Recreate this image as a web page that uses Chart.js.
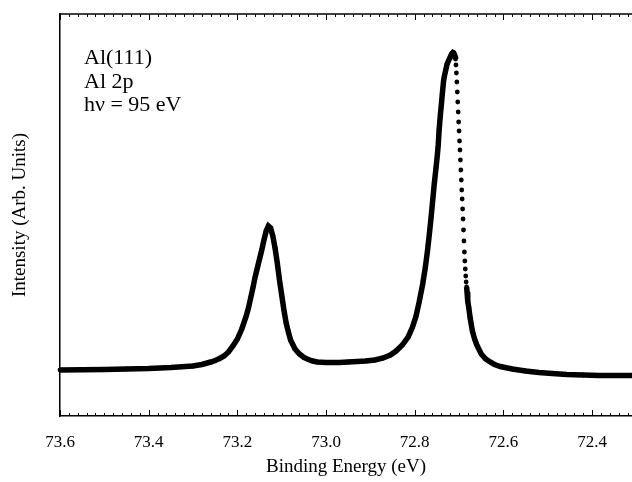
<!DOCTYPE html>
<html lang="en">
<head>
    <meta charset="UTF-8">
    <title>Al 2p spectrum</title>
    <script src="https://cdn.jsdelivr.net/npm/chart.js"></script>
    <style>
        html, body { margin: 0; padding: 0; background: #fff; }
        #spectrum { display: block; }
    </style>
</head>
<body>
    <canvas id="spectrum" width="632" height="482"></canvas>
    <script>
        // binding energy (eV)
        const energy = [
            73.60, 73.55, 73.50, 73.45, 73.40, 73.35, 73.30, 73.28, 73.26, 73.25,
            73.24, 73.23, 73.22, 73.21, 73.20, 73.19, 73.18, 73.175, 73.17, 73.165,
            73.16, 73.155, 73.15, 73.145, 73.14, 73.135, 73.13, 73.125, 73.12, 73.115,
            73.11, 73.105, 73.10, 73.095, 73.09, 73.085, 73.08, 73.07, 73.06, 73.05,
            73.04, 73.03, 73.02, 73.00, 72.97, 72.95, 72.93, 72.91, 72.89, 72.871,
            72.855, 72.842, 72.828, 72.815, 72.805, 72.797, 72.790, 72.782, 72.776, 72.771,
            72.767, 72.763, 72.760, 72.756, 72.752, 72.749, 72.747, 72.745, 72.742, 72.740,
            72.738, 72.735, 72.733, 72.730, 72.727, 72.723, 72.720, 72.718, 72.716, 72.714,
            72.712, 72.710, 72.709, 72.708, 72.707, 72.706, 72.705, 72.704, 72.703, 72.702,
            72.701, 72.700, 72.699, 72.698, 72.697, 72.696, 72.695, 72.694, 72.693, 72.692,
            72.691, 72.690, 72.689, 72.688, 72.687, 72.686, 72.685, 72.684, 72.683, 72.682,
            72.681, 72.680, 72.678, 72.675, 72.670, 72.665, 72.660, 72.650, 72.640, 72.630,
            72.620, 72.607, 72.58, 72.55, 72.52, 72.49, 72.457, 72.42, 72.383, 72.35,
            72.31
        ];
        // intensity (arb. units)
        const intensity = [
            46, 46.2, 46.5, 47, 47.5, 48.5, 50, 51.5, 54, 55.5,
            57.5, 60, 64, 70, 77, 87, 100, 108, 118, 128,
            139, 148, 157, 166, 176, 185, 190, 188, 180, 168,
            153, 136, 121, 106, 93, 84, 76, 67, 62, 58.5,
            56.5, 55, 54, 53.5, 53.5, 54, 54.5, 55, 56, 58,
            61, 65, 71, 79, 89, 100, 114, 132, 149, 166,
            182, 199, 213, 232, 248, 261, 271, 286, 302, 311,
            321, 335, 340, 346, 352, 356, 359, 361, 362.5, 363.5,
            363, 361, 359.5, 357, 351, 343, 334, 324, 314, 304,
            294, 285, 275, 266, 256, 246, 236, 226, 217, 207,
            197, 186, 175, 164, 155, 147, 140, 134, 129, 124,
            119, 115, 108, 98, 85, 77, 71, 62, 57, 54,
            51.5, 49.5, 47, 45, 43.5, 42.5, 41.5, 41, 40.5, 40.5,
            40.5
        ];
        const xTicks = [73.6, 73.4, 73.2, 73.0, 72.8, 72.6, 72.4];
        const xTickLabels = ['73.6', '73.4', '73.2', '73.0', '72.8', '72.6', '72.4'];
        const notes = ['Al(111)', 'Al 2p', 'h\u03BD = 95 eV'];

        const points = energy.map((e, i) => ({ x: e, y: intensity[i] }));

        // the steep fall of the big peak shows separate dots, no line
        const dotted = (a, b) => a >= 72.6825 && a <= 72.7085 && b >= 72.6825 && b <= 72.7085;

        const frame = {
            id: 'frame',
            afterDraw(chart) {
                const { ctx, chartArea: a, scales: { x } } = chart;
                ctx.save();
                ctx.strokeStyle = '#000';
                ctx.lineWidth = 1.5;
                ctx.beginPath();
                ctx.moveTo(a.left, a.top);
                ctx.lineTo(a.right, a.top);
                ctx.stroke();

                ctx.lineWidth = 1;
                for (let i = 0; i <= 70; i++) {
                    const px = Math.round(x.getPixelForValue(73.6 - i * 0.02)) + 0.5;
                    if (px > a.right) break;
                    const len = i % 10 === 0 ? 6 : 3;
                    ctx.beginPath();
                    ctx.moveTo(px, a.bottom);
                    ctx.lineTo(px, a.bottom - len);
                    ctx.moveTo(px, a.top);
                    ctx.lineTo(px, a.top + len);
                    ctx.stroke();
                }

                ctx.fillStyle = '#000';
                ctx.font = "22px 'Liberation Serif', 'Times New Roman', serif";
                ctx.textBaseline = 'alphabetic';
                notes.forEach((t, i) => ctx.fillText(t, 84, 64 + i * 23.5));
                ctx.restore();
            }
        };

        Chart.defaults.font.family = "'Liberation Serif', 'Times New Roman', serif";
        Chart.defaults.color = '#000';

        new Chart(document.getElementById('spectrum'), {
            type: 'scatter',
            data: {
                datasets: [{
                    data: points,
                    showLine: true,
                    borderColor: '#000',
                    borderWidth: 5.5,
                    pointRadius: 2.4,
                    pointBorderWidth: 0,
                    pointBackgroundColor: '#000',
                    clip: false,
                    segment: {
                        borderColor: ctx => dotted(ctx.p0.parsed.x, ctx.p1.parsed.x) ? 'rgba(0,0,0,0)' : '#000'
                    }
                }]
            },
            options: {
                responsive: false,
                animation: false,
                layout: { autoPadding: false, padding: { top: 14, right: 0, left: 0, bottom: 0 } },
                plugins: { legend: { display: false }, tooltip: { enabled: false } },
                scales: {
                    x: {
                        type: 'linear',
                        reverse: true,
                        min: 72.31,
                        max: 73.6,
                        afterBuildTicks: s => { s.ticks = xTicks.map(v => ({ value: v })); },
                        afterFit: s => { s.height = 66; s.paddingRight = 0; s.paddingLeft = 0; },
                        grid: { display: false, drawTicks: false },
                        border: { display: true, color: '#000', width: 1.5 },
                        ticks: {
                            padding: 16,
                            font: { size: 17 },
                            callback: (v, i) => xTickLabels[i]
                        },
                        title: {
                            display: true,
                            text: 'Binding Energy (eV)',
                            font: { size: 19 },
                            padding: { top: 0, bottom: 4 }
                        }
                    },
                    y: {
                        min: 0,
                        max: 402,
                        afterFit: s => { s.width = 60; },
                        grid: { display: false, drawTicks: false },
                        border: { display: true, color: '#000', width: 1.5 },
                        ticks: { display: false },
                        title: {
                            display: true,
                            text: 'Intensity (Arb. Units)',
                            font: { size: 19 },
                            padding: { top: 9, bottom: 0 }
                        }
                    }
                }
            },
            plugins: [frame]
        });
    </script>
</body>
</html>
